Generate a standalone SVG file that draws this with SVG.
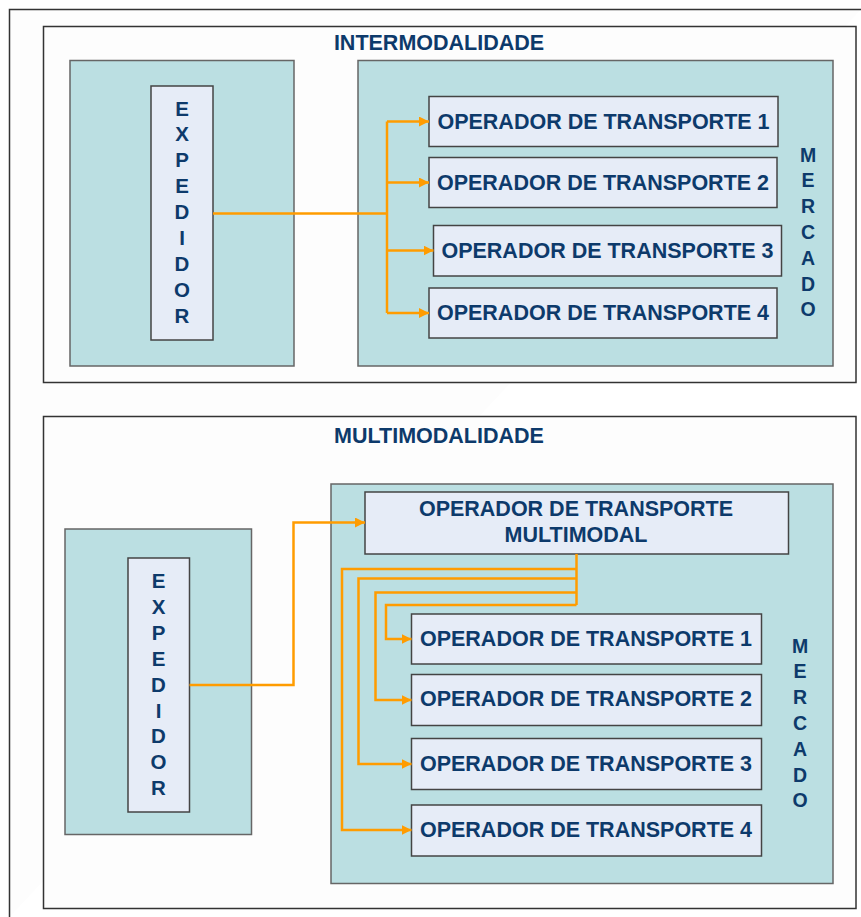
<svg xmlns="http://www.w3.org/2000/svg" width="861" height="917" viewBox="0 0 861 917">
<style>
.frame{fill:#fdfdfd;stroke:#333;stroke-width:1.5}
.teal{fill:#bbdfe2;stroke:#666;stroke-width:1.5}
.box{fill:#e6ecf7;stroke:#444;stroke-width:1.5}
.t{font-family:"Liberation Sans",Arial,sans-serif;font-weight:bold;fill:#0d3a6b;font-size:21.5px;text-anchor:middle}
.v{font-family:"Liberation Sans",Arial,sans-serif;font-weight:bold;fill:#0d3a6b;font-size:19.5px;text-anchor:middle}
.ve{font-size:20.5px}
.c{fill:none;stroke:#ff9c00;stroke-width:2.5;stroke-linejoin:miter}
.a{fill:none;stroke:#ff9c00;stroke-width:2.5;marker-end:url(#ah)}
</style>
<defs>
<marker id="ah" markerUnits="userSpaceOnUse" markerWidth="11" markerHeight="11" refX="10" refY="5" orient="auto">
<path d="M0,0 L10,5 L0,10 Z" fill="#ff9c00"/>
</marker>
</defs>
<rect width="861" height="917" fill="#ffffff"/>
<path d="M9.5,917 V9.5 H861" fill="#fdfdfd" stroke="#333" stroke-width="1.5"/>

<g id="frame-intermodalidade">
<rect class="frame" x="43.5" y="26.5" width="812.5" height="356"/>
<text class="t" x="439" y="50">INTERMODALIDADE</text>
</g>
<g id="expedidor-area-top">
<rect class="teal" x="70" y="60.5" width="224" height="305.5"/>
</g>
<g id="mercado-top">
<rect class="teal" x="358" y="60.5" width="475" height="305.5"/>
<text class="v">
<tspan x="808" y="161.5">M</tspan><tspan x="808" y="187.3">E</tspan><tspan x="808" y="213.1">R</tspan><tspan x="808" y="238.9">C</tspan><tspan x="808" y="264.7">A</tspan><tspan x="808" y="290.5">D</tspan><tspan x="808" y="316.3">O</tspan>
</text>
</g>
<g id="expedidor-top">
<rect class="box" x="151" y="86" width="62" height="254"/>
<text class="v ve">
<tspan x="182" y="115.5">E</tspan><tspan x="182" y="141.4">X</tspan><tspan x="182" y="167.3">P</tspan><tspan x="182" y="193.2">E</tspan><tspan x="182" y="219.1">D</tspan><tspan x="182" y="245">I</tspan><tspan x="182" y="270.9">D</tspan><tspan x="182" y="296.8">O</tspan><tspan x="182" y="322.7">R</tspan>
</text>
</g>
<g id="op1-top">
<rect class="box" x="429" y="96.5" width="349" height="50"/>
<text class="t" x="603.5" y="128.5">OPERADOR DE TRANSPORTE 1</text>
</g>
<g id="op2-top">
<rect class="box" x="429" y="157.5" width="348" height="50"/>
<text class="t" x="603" y="189.5">OPERADOR DE TRANSPORTE 2</text>
</g>
<g id="op3-top">
<rect class="box" x="433.5" y="225.5" width="348" height="50.5"/>
<text class="t" x="607.5" y="257.5">OPERADOR DE TRANSPORTE 3</text>
</g>
<g id="op4-top">
<rect class="box" x="429" y="288" width="348" height="50"/>
<text class="t" x="603" y="320">OPERADOR DE TRANSPORTE 4</text>
</g>

<g id="frame-multimodalidade">
<rect class="frame" x="43.5" y="416.5" width="812.5" height="492"/>
<text class="t" x="439" y="443">MULTIMODALIDADE</text>
</g>
<g id="expedidor-area-bottom">
<rect class="teal" x="65" y="529" width="186.5" height="305.5"/>
</g>
<g id="mercado-bottom">
<rect class="teal" x="331" y="484" width="502" height="399.5"/>
<text class="v">
<tspan x="800" y="652.5">M</tspan><tspan x="800" y="678.3">E</tspan><tspan x="800" y="704.1">R</tspan><tspan x="800" y="729.9">C</tspan><tspan x="800" y="755.7">A</tspan><tspan x="800" y="781.5">D</tspan><tspan x="800" y="807.3">O</tspan>
</text>
</g>
<g id="expedidor-bottom">
<rect class="box" x="128" y="558" width="61.5" height="254"/>
<text class="v ve">
<tspan x="158.5" y="588">E</tspan><tspan x="158.5" y="613.9">X</tspan><tspan x="158.5" y="639.8">P</tspan><tspan x="158.5" y="665.7">E</tspan><tspan x="158.5" y="691.6">D</tspan><tspan x="158.5" y="717.5">I</tspan><tspan x="158.5" y="743.4">D</tspan><tspan x="158.5" y="769.3">O</tspan><tspan x="158.5" y="795.2">R</tspan>
</text>
</g>
<g id="op-multimodal">
<rect class="box" x="365" y="492" width="423.5" height="62"/>
<text class="t" x="576" y="516">OPERADOR DE TRANSPORTE</text>
<text class="t" x="576" y="542">MULTIMODAL</text>
</g>
<g id="op1-bottom">
<rect class="box" x="411.5" y="614" width="350" height="50"/>
<text class="t" x="586" y="645.5">OPERADOR DE TRANSPORTE 1</text>
</g>
<g id="op2-bottom">
<rect class="box" x="411.5" y="674.5" width="350" height="51"/>
<text class="t" x="586" y="706">OPERADOR DE TRANSPORTE 2</text>
</g>
<g id="op3-bottom">
<rect class="box" x="411.5" y="738.5" width="350" height="51"/>
<text class="t" x="586" y="770.5">OPERADOR DE TRANSPORTE 3</text>
</g>
<g id="op4-bottom">
<rect class="box" x="411.5" y="805" width="350" height="51"/>
<text class="t" x="586" y="836.5">OPERADOR DE TRANSPORTE 4</text>
</g>

<g id="connectors">
<path class="c" d="M213,213.5 H387"/>
<path class="c" d="M387,121.5 V313"/>
<path class="a" d="M387,121.5 H429"/>
<path class="a" d="M387,182.5 H429"/>
<path class="a" d="M387,250.5 H433.5"/>
<path class="a" d="M387,313 H429"/>

<path class="a" d="M189.5,685 H293.5 V522.5 H365"/>
<path class="c" d="M576.5,554 V605"/>
<path class="a" d="M576.5,569 H342 V830 H411.5"/>
<path class="a" d="M576.5,578.5 H358.5 V764 H411.5"/>
<path class="a" d="M576.5,592.5 H375.5 V700 H411.5"/>
<path class="a" d="M576.5,605 H386 V639 H411.5"/>
</g>
</svg>
